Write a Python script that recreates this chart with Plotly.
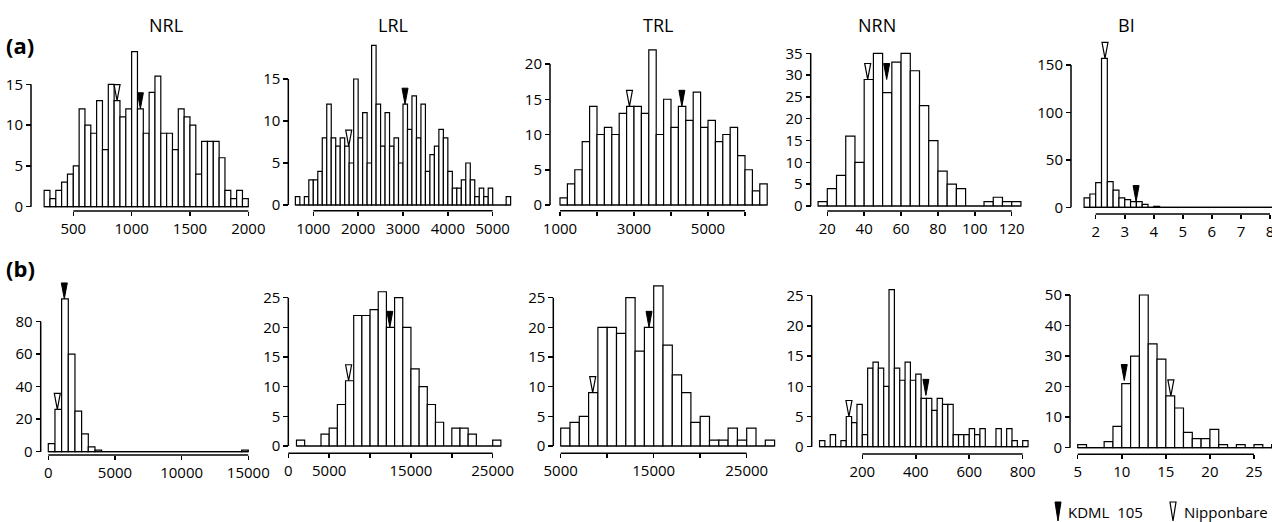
import plotly.graph_objects as go

W, H = 1272, 522

# ---------------- data ----------------
titles = ["NRL", "LRL", "TRL", "NRN", "BI"]

# row (a)
a_nrl_start, a_nrl_bin = 250, 50
a_nrl_counts = [2, 1, 2, 3, 4, 5, 12, 10, 9, 13, 7, 15, 13, 11, 12, 19, 12, 9, 14, 16,
                9, 9, 7, 12, 11, 10, 4, 8, 8, 8, 6, 2, 1, 2, 1]
a_lrl_start, a_lrl_bin = 600, 100
a_lrl_counts = [1, 0, 1, 3, 3, 4, 8, 12, 8, 7, 8, 7, 5, 15, 8, 11, 5, 19, 12, 7,
                11, 7, 8, 5, 12, 9, 13, 8, 12, 4, 6, 7, 9, 8, 4, 2, 2, 3, 5, 3,
                1, 2, 1, 2, 0, 0, 0, 1]
a_trl_start, a_trl_bin = 1000, 200
a_trl_counts = [1, 3, 5, 9, 14, 10, 11, 10, 13, 14, 14, 13, 22, 10, 15, 11, 14, 12, 16, 11,
                12, 9, 10, 11, 7, 5, 2, 3]
a_nrn_start, a_nrn_bin = 15, 5
a_nrn_counts = [1, 4, 7, 16, 10, 29, 35, 26, 33, 35, 31, 23, 15, 8, 5, 4, 0, 0, 1, 2, 1, 1]
a_bi_start, a_bi_bin = 1.6, 0.2
a_bi_counts = [10, 14, 26, 157, 27, 18, 10, 8, 6, 6, 3, 0, 1, 0, 0, 0, 0, 0, 0, 0,
               0, 0, 0, 0, 0, 0, 0, 0, 0, 0, 0, 0, 0]

# row (b)
b_nrl_start, b_nrl_bin = 0, 500
b_nrl_counts = [5, 26, 94, 60, 25, 11, 3, 1, 0, 0, 0, 0, 0, 0, 0, 0, 0, 0, 0, 0,
                0, 0, 0, 0, 0, 0, 0, 0, 0, 1]
b_lrl_start, b_lrl_bin = 1000, 1000
b_lrl_counts = [1, 0, 0, 2, 3, 7, 11, 22, 22, 23, 26, 20, 25, 20, 13, 10, 7, 4, 0, 3,
                3, 2, 0, 0, 1]
b_trl_start, b_trl_bin = 5000, 1000
b_trl_counts = [3, 4, 5, 9, 20, 20, 19, 25, 16, 20, 27, 17, 12, 9, 4, 5, 1, 1, 3, 1, 3, 0, 1]
b_nrn_start, b_nrn_bin = 40, 20
b_nrn_counts = [1, 0, 2, 0, 1, 5, 4, 7, 2, 13, 14, 13, 10, 26, 13, 11, 14, 11, 12, 8,
                8, 6, 8, 7, 7, 2, 2, 2, 3, 2, 3, 0, 0, 3, 0, 3, 1, 0, 1]
b_bi_start, b_bi_bin = 5, 1
b_bi_counts = [1, 0, 0, 2, 7, 21, 30, 50, 34, 29, 17, 13, 5, 3, 3, 6, 1, 0, 1, 0, 1, 0, 1]

# parent values (x position, height of the arrow tip)
kdml_x = [1075, 3045, 4294, 52.2, 3.39, 1200, 12418, 14498, 438, 10.28]
kdml_tip = [12, 12, 14, 29, 6, 94, 20, 20, 8.5, 22]
nip_x = [875, 1790, 2877, 41.9, 2.32, 675, 7377, 8441, 150, 15.57]
nip_tip = [13, 7, 14, 29, 157, 26, 11, 9, 5, 17]

# ticks
x_ticks = [
    [500, 1000, 1500, 2000],
    [1000, 2000, 3000, 4000, 5000],
    [1000, 2000, 3000, 4000, 5000, 6000],
    [20, 40, 60, 80, 100, 120],
    [2, 3, 4, 5, 6, 7, 8],
    [0, 5000, 10000, 15000],
    [0, 5000, 10000, 15000, 20000, 25000],
    [5000, 10000, 15000, 20000, 25000],
    [200, 400, 600, 800],
    [5, 10, 15, 20, 25],
]
x_ticktext = [
    ["500", "1000", "1500", "2000"],
    ["1000", "2000", "3000", "4000", "5000"],
    ["1000", "", "3000", "", "5000", ""],
    ["20", "40", "60", "80", "100", "120"],
    ["2", "3", "4", "5", "6", "7", "8"],
    ["0", "5000", "10000", "15000"],
    ["0", "5000", "", "15000", "", "25000"],
    ["5000", "", "15000", "", "25000"],
    ["200", "400", "600", "800"],
    ["5", "10", "15", "20", "25"],
]
y_ticks = [
    [0, 5, 10, 15],
    [0, 5, 10, 15],
    [0, 5, 10, 15, 20],
    [0, 5, 10, 15, 20, 25, 30, 35],
    [0, 50, 100, 150],
    [0, 20, 40, 60, 80],
    [0, 5, 10, 15, 20, 25],
    [0, 5, 10, 15, 20, 25],
    [0, 5, 10, 15, 20, 25],
    [0, 10, 20, 30, 40, 50],
]

hists = [
    (a_nrl_start, a_nrl_bin, a_nrl_counts),
    (a_lrl_start, a_lrl_bin, a_lrl_counts),
    (a_trl_start, a_trl_bin, a_trl_counts),
    (a_nrn_start, a_nrn_bin, a_nrn_counts),
    (a_bi_start, a_bi_bin, a_bi_counts),
    (b_nrl_start, b_nrl_bin, b_nrl_counts),
    (b_lrl_start, b_lrl_bin, b_lrl_counts),
    (b_trl_start, b_trl_bin, b_trl_counts),
    (b_nrn_start, b_nrn_bin, b_nrn_counts),
    (b_bi_start, b_bi_bin, b_bi_counts),
]

# ---------------- layout geometry (pixels) ----------------
# first tick px, last tick px, y-axis line x, y=0 px, top-tick px, x-axis line y
geom = [
    (73.3, 248.3, 31.0, 206.7, 84.3, 211.0),
    (313.3, 492.7, 288.3, 205.0, 79.0, 210.7),
    (560.0, 745.0, 550.0, 205.0, 64.0, 210.7),
    (827.3, 1011.7, 810.7, 206.0, 53.3, 211.0),
    (1095.7, 1270.0, 1071.0, 207.3, 65.0, 214.0),
    (48.3, 248.3, 40.7, 451.7, 321.7, 455.0),
    (288.3, 492.7, 288.3, 446.0, 297.7, 453.3),
    (560.7, 746.7, 553.3, 446.0, 297.7, 453.3),
    (862.3, 1022.7, 811.7, 446.7, 295.7, 454.0),
    (1077.7, 1254.0, 1070.0, 447.7, 295.0, 454.3),
]
title_px = [166, 393, 658, 877, 1126]

FONT = "Open Sans"
TRI_W, TRI_H = 3, 16


def fx(px):
    return px / W


def fy(py):
    return 1 - py / H


fig = go.Figure()
layout = dict(
    width=W, height=H, margin=dict(l=0, r=0, t=0, b=0, pad=0, autoexpand=False),
    autosize=False,
    paper_bgcolor="white", plot_bgcolor="white",
    showlegend=False, font=dict(family=FONT, size=15, color="black"),
    bargap=0,
)
shapes = []
annotations = []

for i in range(10):
    n = i + 1
    xa = "x" if n == 1 else f"x{n}"
    ya = "y" if n == 1 else f"y{n}"
    xkey = "xaxis" if n == 1 else f"xaxis{n}"
    ykey = "yaxis" if n == 1 else f"yaxis{n}"
    start, binw, counts = hists[i]
    t0px, t1px, yax_px, y0px, ytop_px, xline_py = geom[i]
    xt = x_ticks[i]
    yt = y_ticks[i]

    edges = [start + binw * j for j in range(len(counts) + 1)]
    centers = [(edges[j] + edges[j + 1]) / 2 for j in range(len(counts))]

    s = (t1px - t0px) / (xt[-1] - xt[0])
    lo = min(edges[0], xt[0]) - 3 / s
    hi = max(edges[-1], xt[-1]) + 3 / s
    px_lo = t0px + (lo - xt[0]) * s
    px_hi = t0px + (hi - xt[0]) * s
    if px_hi > W:
        px_hi = W
        hi = xt[0] + (W - t0px) / s
    if px_lo < 0:
        px_lo = 0
        lo = xt[0] + (0 - t0px) / s

    k = (y0px - ytop_px) / yt[-1]
    top_val = max(max(counts) + 4 / k, max(kdml_tip[i], nip_tip[i]) + (TRI_H + 3) / k)
    ybot = -3 / k
    py_bot = y0px + 3
    py_top = y0px - top_val * k

    fig.add_trace(go.Bar(
        x=centers, y=counts, width=binw, xaxis=xa, yaxis=ya,
        marker=dict(color="white", line=dict(color="black", width=1.2)),
        hoverinfo="x+y",
    ))

    layout[xkey] = dict(
        domain=[fx(px_lo), fx(px_hi)], range=[lo, hi], anchor="free",
        position=fy(xline_py), showgrid=False, zeroline=False, showline=False,
        ticks="outside", ticklen=4, tickwidth=1.5, tickcolor="black",
        tickmode="array", tickvals=xt, ticktext=x_ticktext[i], automargin=False,
        ticklabeloverflow="allow",
        tickfont=dict(family=FONT, size=15, color="black"), fixedrange=True,
    )
    layout[ykey] = dict(
        domain=[fy(py_bot), fy(py_top)], range=[ybot, top_val], anchor="free",
        position=fx(yax_px), showgrid=False, zeroline=False, showline=False,
        ticks="outside", ticklen=5, tickwidth=1.5, tickcolor="black",
        tickmode="array", tickvals=yt, ticktext=[str(v) for v in yt], automargin=False,
        ticklabeloverflow="allow",
        tickfont=dict(family=FONT, size=15, color="black"), fixedrange=True,
    )

    # axis lines (first to last tick), baseline under the bars
    shapes.append(dict(type="line", xref=xa, yref="paper", x0=xt[0], x1=xt[-1],
                       y0=fy(xline_py), y1=fy(xline_py),
                       line=dict(color="black", width=1.5)))
    shapes.append(dict(type="line", xref="paper", yref=ya, x0=fx(yax_px), x1=fx(yax_px),
                       y0=yt[0], y1=yt[-1], line=dict(color="black", width=1.5)))
    shapes.append(dict(type="line", xref=xa, yref=ya, x0=edges[0], x1=edges[-1],
                       y0=0, y1=0, line=dict(color="black", width=1.2)))

    # parent arrows
    tri = f"M{-TRI_W},{TRI_H} L{TRI_W},{TRI_H} L0,0 Z"
    shapes.append(dict(type="path", xref=xa, yref=ya, xsizemode="pixel", ysizemode="pixel",
                       xanchor=nip_x[i], yanchor=nip_tip[i], path=tri,
                       fillcolor="white", line=dict(color="black", width=1.2)))
    shapes.append(dict(type="path", xref=xa, yref=ya, xsizemode="pixel", ysizemode="pixel",
                       xanchor=kdml_x[i], yanchor=kdml_tip[i], path=tri,
                       fillcolor="black", line=dict(color="black", width=1)))

for j, t in enumerate(titles):
    annotations.append(dict(text=t, x=fx(title_px[j]), y=fy(25), xref="paper", yref="paper",
                            xanchor="center", yanchor="middle", showarrow=False,
                            font=dict(family=FONT, size=18, color="black")))

annotations.append(dict(text="<b>(a)</b>", x=fx(4), y=fy(45), xref="paper", yref="paper",
                        xanchor="left", yanchor="middle", showarrow=False,
                        font=dict(family=FONT, size=22, color="black")))
annotations.append(dict(text="<b>(b)</b>", x=fx(4), y=fy(268), xref="paper", yref="paper",
                        xanchor="left", yanchor="middle", showarrow=False,
                        font=dict(family=FONT, size=22, color="black")))

# legend
leg_tri = "M-3,19 L3,19 L0,0 Z"
shapes.append(dict(type="path", xref="paper", yref="paper", xsizemode="pixel", ysizemode="pixel",
                   xanchor=fx(1058), yanchor=fy(521), path=leg_tri,
                   fillcolor="black", line=dict(color="black", width=1)))
shapes.append(dict(type="path", xref="paper", yref="paper", xsizemode="pixel", ysizemode="pixel",
                   xanchor=fx(1173), yanchor=fy(521), path=leg_tri,
                   fillcolor="white", line=dict(color="black", width=1.2)))
annotations.append(dict(text="KDML\u00a0\u00a0105", x=fx(1066), y=fy(512), xref="paper", yref="paper",
                        xanchor="left", yanchor="middle", showarrow=False,
                        font=dict(family=FONT, size=15, color="black")))
annotations.append(dict(text="Nipponbare", x=fx(1182), y=fy(512), xref="paper", yref="paper",
                        xanchor="left", yanchor="middle", showarrow=False,
                        font=dict(family=FONT, size=15, color="black")))

layout["shapes"] = shapes
layout["annotations"] = annotations
fig.update_layout(**layout)

page_fix = ("document.body.style.margin='0';document.body.style.padding='0';"
            "document.documentElement.style.overflow='hidden';"
            "document.body.style.overflow='hidden';")
fig.write_html("out.html", post_script=page_fix,
               config={"displayModeBar": False, "staticPlot": True})
